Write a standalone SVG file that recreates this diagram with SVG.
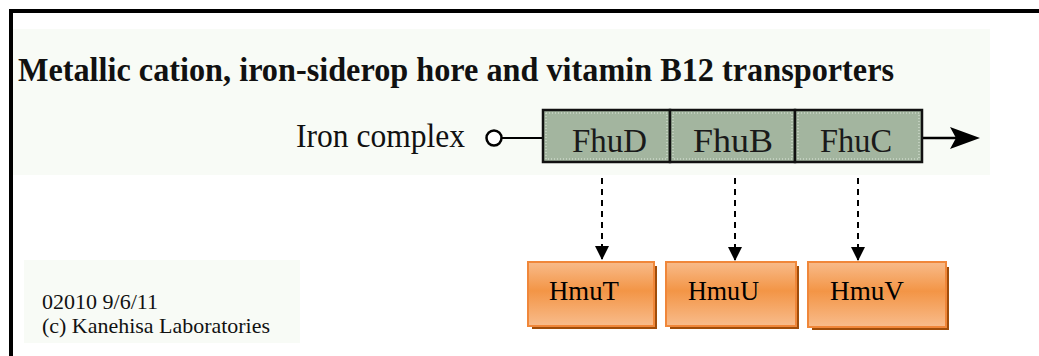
<svg xmlns="http://www.w3.org/2000/svg" width="1039" height="356" viewBox="0 0 1039 356">
<defs>
<style>
.serif{font-family:"Liberation Serif","DejaVu Serif",serif;fill:#111}
.gene{font-family:"Liberation Serif",serif;font-size:33px;fill:#1a1a1a}
.hmu{font-family:"Liberation Serif",serif;font-size:28px;fill:#000}
.dash{stroke:#000;stroke-width:2;stroke-dasharray:6,5;fill:none}
.gbox{fill:#a3b59f;stroke:#111;stroke-width:2.5}
.gin{fill:none;stroke:#dfe8dc;stroke-width:1;stroke-dasharray:1,2}
.shadow{fill:#a04d0a}
.obox{fill:url(#og);stroke:#f0873a;stroke-width:2}
</style>
<linearGradient id="og" x1="0" y1="0" x2="0" y2="1">
<stop offset="0" stop-color="#f8bb8a"/>
<stop offset="0.45" stop-color="#f39546"/>
<stop offset="1" stop-color="#f8bc8c"/>
</linearGradient>
<marker id="tri" markerWidth="14" markerHeight="14" refX="13" refY="7" orient="auto" markerUnits="userSpaceOnUse" viewBox="0 0 14 14">
<path d="M0,0 L14,7 L0,14 Z" fill="#000"/>
</marker>
</defs>
<rect width="1039" height="356" fill="#fff"/>
<rect x="13" y="29" width="977" height="146" fill="#f8fbf6"/>
<rect x="24" y="260" width="276" height="83" fill="#f8fbf6"/>
<path d="M11,356 V11 H1039" fill="none" stroke="#000" stroke-width="4"/>
<text class="serif" x="18" y="81" font-size="33" font-weight="bold" textLength="876" lengthAdjust="spacingAndGlyphs">Metallic cation, iron-siderop hore and vitamin B12 transporters</text>
<text class="serif" x="296" y="147" font-size="33" textLength="169" lengthAdjust="spacingAndGlyphs">Iron complex</text>
<g id="iron-complex">
<circle cx="494" cy="138" r="7.5" fill="#fff" stroke="#000" stroke-width="2.5"/>
</g>
<g id="connectors">
<line x1="501" y1="138" x2="543" y2="138" stroke="#000" stroke-width="2"/>
<line x1="922" y1="138" x2="956" y2="138" stroke="#000" stroke-width="2.5"/>
<path d="M950,127 L980,138 L950,149 L956,138 Z" fill="#000"/>
<line class="dash" x1="602" y1="178" x2="602" y2="259" marker-end="url(#tri)"/>
<line class="dash" x1="735" y1="178" x2="735" y2="260" marker-end="url(#tri)"/>
<line class="dash" x1="858" y1="178" x2="858" y2="260" marker-end="url(#tri)"/>
</g>
<g id="FhuD">
<rect class="gbox" x="543" y="110" width="127" height="52"/>
<rect class="gin" x="546" y="113" width="121" height="46"/>
<text class="gene" x="572" y="152" textLength="75" lengthAdjust="spacingAndGlyphs">FhuD</text>
</g>
<g id="FhuB">
<rect class="gbox" x="670" y="110" width="125" height="52"/>
<rect class="gin" x="673" y="113" width="119" height="46"/>
<text class="gene" x="693" y="152" textLength="80" lengthAdjust="spacingAndGlyphs">FhuB</text>
</g>
<g id="FhuC">
<rect class="gbox" x="795" y="110" width="127" height="52"/>
<rect class="gin" x="798" y="113" width="121" height="46"/>
<text class="gene" x="820" y="152" textLength="72" lengthAdjust="spacingAndGlyphs">FhuC</text>
</g>
<g id="HmuT">
<rect class="shadow" x="532" y="266" width="125" height="63"/>
<rect class="obox" x="528" y="262" width="126" height="64"/>
<text class="hmu" x="549" y="300" textLength="70" lengthAdjust="spacingAndGlyphs">HmuT</text>
</g>
<g id="HmuU">
<rect class="shadow" x="670" y="266" width="129" height="63"/>
<rect class="obox" x="666" y="262" width="130" height="64"/>
<text class="hmu" x="688" y="300" textLength="71" lengthAdjust="spacingAndGlyphs">HmuU</text>
</g>
<g id="HmuV">
<rect class="shadow" x="812" y="267" width="137" height="63"/>
<rect class="obox" x="808" y="262" width="138" height="65"/>
<text class="hmu" x="830" y="300" textLength="74" lengthAdjust="spacingAndGlyphs">HmuV</text>
</g>
<text class="serif" x="42" y="309" font-size="22" textLength="116" lengthAdjust="spacingAndGlyphs">02010 9/6/11</text>
<text class="serif" x="42" y="333" font-size="22" textLength="228" lengthAdjust="spacingAndGlyphs">(c) Kanehisa Laboratories</text>
</svg>
